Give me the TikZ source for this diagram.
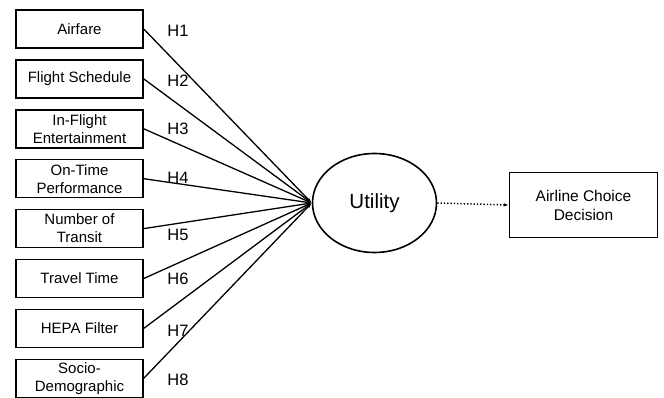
\documentclass[tikz,border=0pt]{standalone}
\usepackage{fontspec}
\setmainfont{Liberation Sans}
\usetikzlibrary{shapes, arrows.meta, positioning}

\begin{document}
\begin{tikzpicture}[x=1pt, y=-1pt,
		factor/.style={draw, line width=1.5pt, minimum width=127pt, minimum height=38pt,
			inner sep=1pt, align=center, font=\fontsize{15}{18}\selectfont},
		hyp/.style={font=\fontsize{16.5}{19}\selectfont},
		path/.style={line width=1.3pt, -{Latex[length=5pt, width=3.5pt]}}]
		\useasboundingbox (0,0) rectangle (664,398);
		
		% 影响因素与假设
		\foreach \i/\txt/\ly in {1/Airfare/31, 2/Flight Schedule/81, 3/{In-Flight\\Entertainment}/129,
			4/{On-Time\\Performance}/178, 5/{Number of\\Transit}/235, 6/Travel Time/279,
			7/HEPA Filter/331, 8/{Socio-\\Demographic}/380}{
			\node[factor] (b\i) at (79.5, {29+49.9*(\i-1)}) {\txt};
			\node[hyp] (h\i) at (178, \ly) {H\i};
		}
		
		% 效用
		\node[draw, ellipse, line width=1.6pt, minimum width=124pt, minimum height=99pt,
		font=\fontsize{20.5}{24}\selectfont] (u) at (374.5,203) {Utility};
		
		% 选择结果
		\node[factor, minimum width=148pt, minimum height=65pt, font=\fontsize{15.5}{19}\selectfont]
		(d) at (583.5,205) {Airline Choice\\Decision};
		
		% 路径
		\foreach \i in {1,...,8}
		\draw[path] (b\i.east) -- (u.west);
		\draw[path, dotted, line width=1.5pt] (u.east) -- (d.west);
	\end{tikzpicture}
\end{document}
